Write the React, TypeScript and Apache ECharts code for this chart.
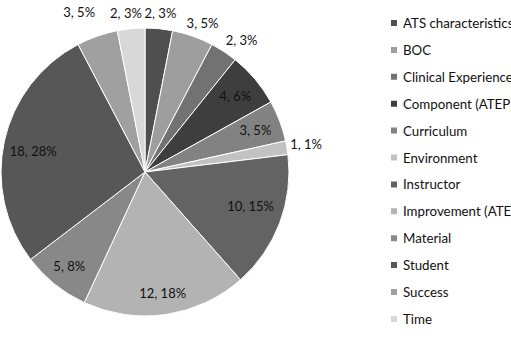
import React, { useEffect, useRef } from "react";
import * as echarts from "echarts";

// Response themes and how many comments fell into each
const categories = [
  "ATS characteristics",
  "BOC",
  "Clinical Experience",
  "Component (ATEP)",
  "Curriculum",
  "Environment",
  "Instructor",
  "Improvement (ATEP)",
  "Material",
  "Student",
  "Success",
  "Time",
];
const counts = [2, 3, 2, 4, 3, 1, 10, 12, 5, 18, 3, 2];

// Grayscale fill for each slice
const sliceColors = [
  "#4f4f4f",
  "#9e9e9e",
  "#727272",
  "#3e3e3e",
  "#828282",
  "#c2c2c2",
  "#636363",
  "#b3b3b3",
  "#888888",
  "#575757",
  "#a0a0a0",
  "#d8d8d8",
];

// Pie geometry (px)
const CX = 145;
const CY = 172;
const R = 144;

// Label placement: distance of each label's centre from the pie centre
// (in radii) and a small angular nudge (degrees) off the slice's mid-line
const labelRadius = [1.11, 1.11, 1.135, 0.82, 0.82, 1.135, 0.77, 0.85, 0.84, 0.79, 1.2, 1.11];
const labelNudge = [0, 1.7, 3, 0, 0, 0, -3, 0, 0, -1.8, -3, -1.3];

const FONT = "Lato, 'Liberation Sans', sans-serif";

export default function App() {
  const ref = useRef<HTMLDivElement>(null);

  useEffect(() => {
    if (!ref.current) return;
    const chart = echarts.init(ref.current, null, { renderer: "svg" });
    const total = counts.reduce((a, b) => a + b, 0);
    const midAngles: number[] = [];
    let acc = 0;
    counts.forEach((v) => {
      midAngles.push(((acc + v / 2) / total) * Math.PI * 2);
      acc += v;
    });

    chart.setOption({
      animation: false,
      backgroundColor: "#ffffff",
      textStyle: { fontFamily: FONT },
      legend: {
        orient: "vertical",
        left: 389,
        top: 16,
        padding: 0,
        icon: "rect",
        itemWidth: 8,
        itemHeight: 8,
        itemGap: 12.9,
        data: categories,
        textStyle: {
          fontSize: 13.3,
          lineHeight: 14,
          color: "#111111",
          fontFamily: FONT,
        },
      },
      series: [
        {
          type: "pie",
          center: [CX, CY],
          radius: R,
          startAngle: 90,
          clockwise: true,
          percentPrecision: 0,
          avoidLabelOverlap: false,
          itemStyle: { borderColor: "#ffffff", borderWidth: 1 },
          emphasis: { disabled: true },
          label: {
            show: true,
            position: "inside",
            formatter: "{c}, {d}%",
            fontSize: 13,
            color: "#111111",
            fontFamily: FONT,
          },
          labelLine: { show: false },
          labelLayout: (params: any) => {
            const i = params.dataIndex;
            const a = midAngles[i] + (labelNudge[i] * Math.PI) / 180;
            const d = R * labelRadius[i];
            return {
              x: CX + d * Math.sin(a),
              y: CY - d * Math.cos(a),
              align: "center",
              verticalAlign: "middle",
            };
          },
          data: categories.map((name, i) => ({
            name,
            value: counts[i],
            itemStyle: { color: sliceColors[i] },
          })),
        },
      ],
    });

    return () => chart.dispose();
  }, []);

  return (
    <div
      ref={ref}
      style={{ position: "fixed", left: 0, top: 0, width: 511, height: 339 }}
    />
  );
}
